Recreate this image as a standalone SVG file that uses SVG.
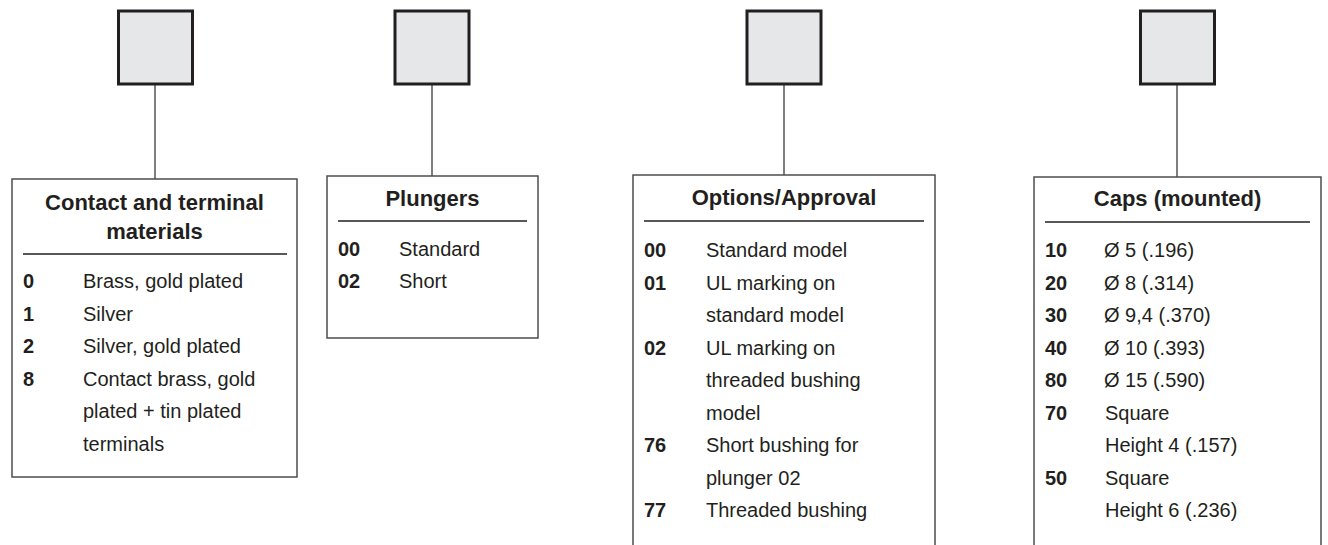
<svg xmlns="http://www.w3.org/2000/svg" width="1328" height="545" viewBox="0 0 1328 545">
<style>
  .bg { fill: #ffffff; }
  .sq { fill: #e6e7e8; stroke: #231f20; stroke-width: 3; }
  .box { fill: #ffffff; stroke: #4d4d4d; stroke-width: 1.5; }
  .rule { stroke: #231f20; stroke-width: 1.3; }
  .conn { stroke: #555555; stroke-width: 1.5; fill: none; }
  text { font-family: "Liberation Sans", Arial, sans-serif; fill: #231f20; }
  .title { font-size: 22px; font-weight: bold; text-anchor: middle; }
  .code { font-size: 20px; font-weight: bold; }
  .desc { font-size: 20px; }
</style>
<rect class="bg" x="0" y="0" width="1328" height="545"/>

<g id="connectors">
  <line class="conn" x1="155" y1="85" x2="155" y2="179"/>
  <line class="conn" x1="432" y1="85" x2="432" y2="176"/>
  <line class="conn" x1="784" y1="85" x2="784" y2="175"/>
  <line class="conn" x1="1177" y1="85" x2="1177" y2="177"/>
</g>

<g id="code-contact"><rect class="sq" x="118.5" y="11" width="74" height="73"/></g>
<g id="code-plungers"><rect class="sq" x="395" y="11" width="74" height="73"/></g>
<g id="code-options"><rect class="sq" x="747" y="11" width="74" height="73"/></g>
<g id="code-caps"><rect class="sq" x="1140.5" y="11" width="74" height="73"/></g>

<g id="node-contact">
  <rect class="box" x="12" y="179" width="285" height="298"/>
  <text class="title" x="154.5" y="210">Contact and terminal</text>
  <text class="title" x="154.5" y="239">materials</text>
  <line class="rule" x1="23" y1="254" x2="287" y2="254"/>
  <text class="code" x="23" y="288">0</text><text class="desc" x="83" y="288">Brass, gold plated</text>
  <text class="code" x="23" y="320.5">1</text><text class="desc" x="83" y="320.5">Silver</text>
  <text class="code" x="23" y="353">2</text><text class="desc" x="83" y="353">Silver, gold plated</text>
  <text class="code" x="23" y="385.5">8</text><text class="desc" x="83" y="385.5">Contact brass, gold</text>
  <text class="desc" x="83" y="418">plated + tin plated</text>
  <text class="desc" x="83" y="450.5">terminals</text>
</g>

<g id="node-plungers">
  <rect class="box" x="327" y="176" width="211" height="162"/>
  <text class="title" x="432.5" y="206">Plungers</text>
  <line class="rule" x1="338" y1="221" x2="527" y2="221"/>
  <text class="code" x="338" y="256">00</text><text class="desc" x="399" y="256">Standard</text>
  <text class="code" x="338" y="288">02</text><text class="desc" x="399" y="288">Short</text>
</g>

<g id="node-options">
  <rect class="box" x="633" y="175" width="302" height="400"/>
  <text class="title" x="784" y="205">Options/Approval</text>
  <line class="rule" x1="644" y1="221" x2="924" y2="221"/>
  <text class="code" x="644" y="257">00</text><text class="desc" x="706" y="257">Standard model</text>
  <text class="code" x="644" y="289.5">01</text><text class="desc" x="706" y="289.5">UL marking on</text>
  <text class="desc" x="706" y="322">standard model</text>
  <text class="code" x="644" y="354.5">02</text><text class="desc" x="706" y="354.5">UL marking on</text>
  <text class="desc" x="706" y="387">threaded bushing</text>
  <text class="desc" x="706" y="419.5">model</text>
  <text class="code" x="644" y="452">76</text><text class="desc" x="706" y="452">Short bushing for</text>
  <text class="desc" x="706" y="484.5">plunger 02</text>
  <text class="code" x="644" y="517">77</text><text class="desc" x="706" y="517">Threaded bushing</text>
</g>

<g id="node-caps">
  <rect class="box" x="1034" y="177" width="287" height="400"/>
  <text class="title" x="1177.5" y="206">Caps (mounted)</text>
  <line class="rule" x1="1045" y1="222" x2="1310" y2="222"/>
  <text class="code" x="1045" y="257">10</text><text class="desc" x="1104" y="257">Ø 5 (.196)</text>
  <text class="code" x="1045" y="289.5">20</text><text class="desc" x="1104" y="289.5">Ø 8 (.314)</text>
  <text class="code" x="1045" y="322">30</text><text class="desc" x="1104" y="322">Ø 9,4 (.370)</text>
  <text class="code" x="1045" y="354.5">40</text><text class="desc" x="1104" y="354.5">Ø 10 (.393)</text>
  <text class="code" x="1045" y="387">80</text><text class="desc" x="1104" y="387">Ø 15 (.590)</text>
  <text class="code" x="1045" y="419.5">70</text><text class="desc" x="1105" y="419.5">Square</text>
  <text class="desc" x="1105" y="452">Height 4 (.157)</text>
  <text class="code" x="1045" y="484.5">50</text><text class="desc" x="1105" y="484.5">Square</text>
  <text class="desc" x="1105" y="517">Height 6 (.236)</text>
</g>
</svg>
